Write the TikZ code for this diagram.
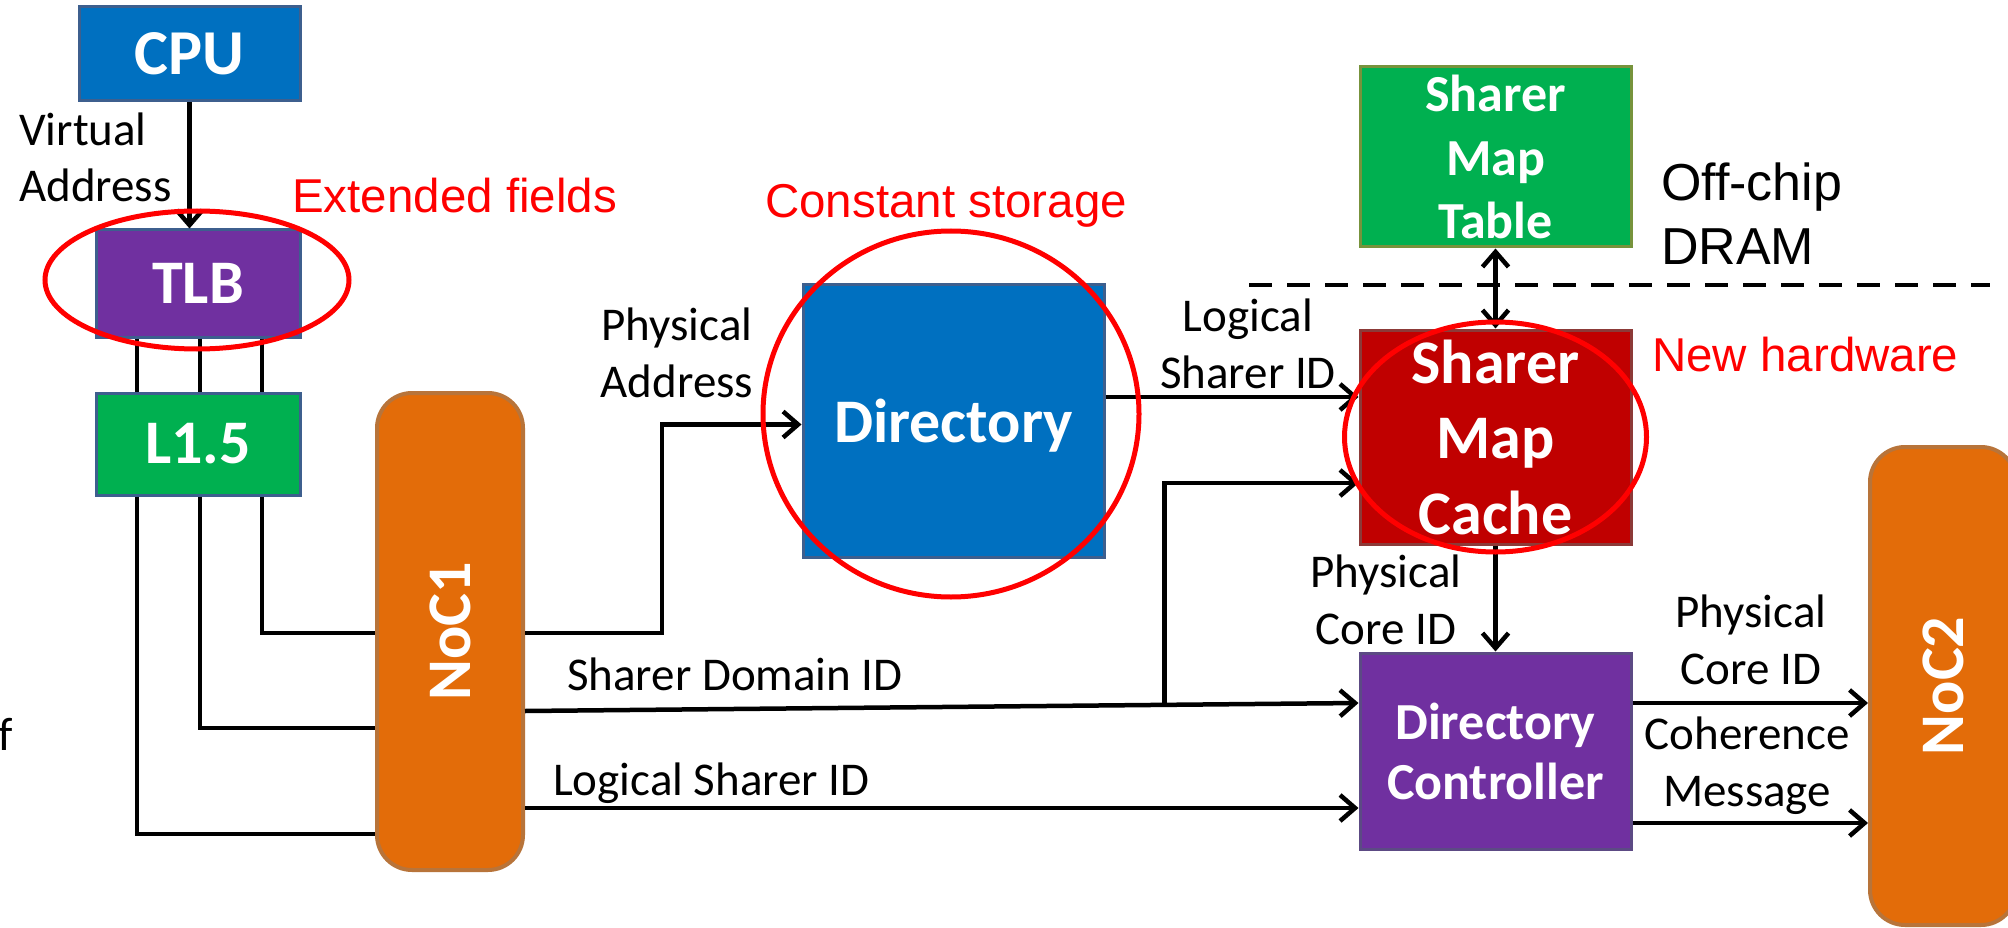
\documentclass[tikz,border=0pt]{standalone}
\usepackage{fontspec}
\usepackage{graphicx}
\setmainfont{Carlito}
\newfontfamily\arialf{Liberation Sans}
\usetikzlibrary{arrows.meta,calc}

\definecolor{coreblue}{HTML}{0070C0}
\definecolor{blueedge}{HTML}{3D5F8E}
\definecolor{unitpurple}{HTML}{7030A0}
\definecolor{purpleedge}{HTML}{5C4A84}
\definecolor{memgreen}{HTML}{00B050}
\definecolor{oliveedge}{HTML}{77933C}
\definecolor{cachered}{HTML}{C00000}
\definecolor{rededge}{HTML}{8C3A38}
\definecolor{nocorange}{HTML}{E36C09}
\definecolor{nocedge}{HTML}{B8743A}
\definecolor{ringred}{HTML}{FF0000}

\tikzset{
  block/.style={draw, line width=3pt, text=white, inner sep=0pt, align=center,
    font=\bfseries\fontsize{62}{76}\selectfont},
  noc/.style={block, fill=nocorange, draw=nocedge, line width=4pt, rounded corners=35pt},
  wire/.style={line width=4.5pt},
  tip/.tip={Straight Barb[length=15pt,width=26pt]},
  arr/.style={wire, -tip},
  dualarr/.style={wire, tip-tip},
  ring/.style={draw=ringred, line width=5pt},
  lbl/.style={inner sep=0pt, align=center, font=\fontsize{47}{56.5}\selectfont},
  note/.style={inner sep=0pt, text=ringred, font=\arialf\fontsize{47.5}{57}\selectfont},
}

\begin{document}
\begin{tikzpicture}[x=1pt,y=-1pt]
\useasboundingbox (0,0) rectangle (2008,928);
\fill[white] (0,0) rectangle (2008,928);

% processor side
\node[block, fill=coreblue, draw=blueedge, minimum width=221pt, minimum height=94pt,
      font=\bfseries\fontsize{64}{76}\selectfont] (cpu) at (189.5,54) {CPU};
\node[block, fill=unitpurple, draw=blueedge, minimum width=204pt, minimum height=107pt] (tlb) at (198,283.5) {TLB};
\node[block, fill=memgreen, draw=blueedge, minimum width=204pt, minimum height=102pt] (l15) at (198,444) {L1.5};
\node[noc, minimum width=146pt, minimum height=477pt] (noc1) at (450,631.5) {\rotatebox{90}{NoC1}};

% directory side
\node[block, fill=coreblue, draw=blueedge, minimum width=301pt, minimum height=273pt, text depth=0pt] (dir) at (953.5,420.5) {Directory};
\node[block, fill=memgreen, draw=oliveedge, minimum width=271pt, minimum height=180pt,
      font=\bfseries\fontsize{52}{63.5}\selectfont] (smt) at (1495.5,157) {Sharer\\Map\\Table};
\node[block, fill=cachered, draw=rededge, minimum width=271pt, minimum height=214pt,
      font=\bfseries\fontsize{62}{75.5}\selectfont] (smc) at (1495.5,437) {Sharer\\Map\\Cache};
\node[block, fill=unitpurple, draw=purpleedge, minimum width=271pt, minimum height=196pt,
      font=\bfseries\fontsize{52}{60}\selectfont] (dc) at (1495.5,751) {Directory\\Controller};
\node[noc, minimum width=146pt, minimum height=478pt] (noc2) at (1943,686) {\rotatebox{90}{NoC2}};

% connectors
\draw[arr] (cpu.south) -- (cpu.south |- tlb.north);
\foreach \dx in {-61,2,64}
  \draw[wire] ([xshift=\dx pt]tlb.south) -- ([xshift=\dx pt]l15.north);
\draw[wire] ([xshift=64pt]l15.south) |- ([yshift=-1.5pt]noc1.west);
\draw[wire] ([xshift=2pt]l15.south) |- ([yshift=-96.5pt]noc1.west);
\draw[wire] ([xshift=-61pt]l15.south) |- ([yshift=-202.5pt]noc1.west);

\coordinate (pabend) at (662,633);
\draw[arr] ([yshift=-1.5pt]noc1.east) -- (pabend) |- ([yshift=-4pt]dir.west);
\draw[arr] ([yshift=-79.5pt]noc1.east) -- node[pos=0.767, coordinate] (sdbranch) {} ([yshift=48pt]dc.west);
\draw[arr] (sdbranch) |- ([yshift=-46pt]smc.west);
\draw[arr] ([yshift=-176.5pt]noc1.east) -- ([yshift=-57pt]dc.west);
\draw[arr] ([yshift=23.5pt]dir.east) -- ([yshift=40pt]smc.west);
\draw[arr] (smc.south) -- (dc.north);
\draw[dualarr] (smt.south) -- (smc.north);
\draw[arr] ([yshift=48pt]dc.east) -- ([yshift=48pt]dc.east -| noc2.west);
\draw[arr] ([yshift=-72pt]dc.east) -- ([yshift=-72pt]dc.east -| noc2.west);

% chip boundary
\coordinate (dashL) at (1249,285);
\coordinate (dashR) at (1990,285);
\draw[line width=4pt, dash pattern=on 23pt off 15pt] (dashL) -- (dashR);

% highlight rings
\draw[ring] ([shift={(-1,-3.5)}]tlb.center) ellipse [x radius=152pt, y radius=69pt];
\draw[ring] ([shift={(-2.5,-6.5)}]dir.center) ellipse [x radius=188pt, y radius=183pt];
\draw[ring] (smc.center) ellipse [x radius=151pt, y radius=115pt];

% signal labels (anchored on the baseline of their last line)
\node[lbl, align=left, anchor=base west] (va) at (19,202) {Virtual\\Address};
\node[lbl, anchor=base] (pa) at (677,397) {Physical\\Address};
\node[lbl, anchor=base] (ls) at (1248,388) {Logical\\Sharer ID};
\node[lbl, anchor=base west] (sd) at (567,690) {Sharer Domain ID};
\node[lbl, anchor=base west] (lsid) at (553,795) {Logical Sharer ID};
\node[lbl, anchor=base] (pc1) at (1386,644) {Physical\\Core ID};
\node[lbl, anchor=base] (pc2) at (1751,684) {Physical\\Core ID};
\node[lbl, anchor=base] (cm) at (1747,806) {Coherence\\Message};
\node[lbl, anchor=base east] (frag) at (13,750) {f};

% annotations
\node[note, anchor=base west] (ef) at (292,213) {Extended fields};
\node[note, anchor=base west] (cs) at (765,218) {Constant storage};
\node[note, anchor=base west] (nh) at (1652,371) {New hardware};
\node[inner sep=0pt, align=left, anchor=base west, font=\arialf\fontsize{52}{64}\selectfont] (dram) at (1661,265) {Off-chip\\DRAM};
\end{tikzpicture}
\end{document}
